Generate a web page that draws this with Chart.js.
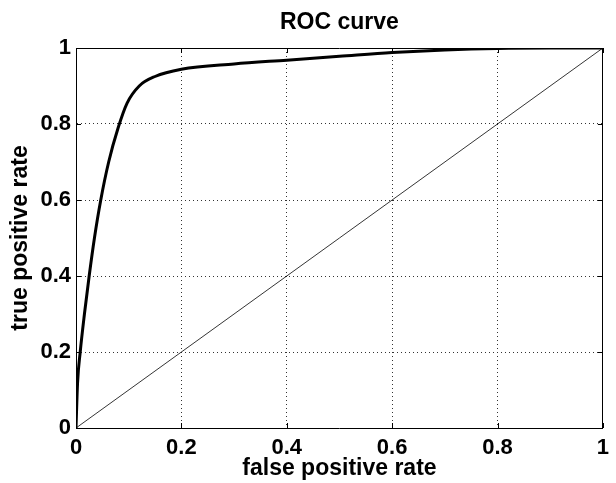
<!DOCTYPE html>
<html>
<head>
<meta charset="utf-8">
<title>ROC curve</title>
<script src="https://cdn.jsdelivr.net/npm/chart.js@4.4.1/dist/chart.umd.min.js"></script>
<style>
    html, body { margin: 0; padding: 0; background: #fff; }
    canvas { display: block; }
</style>
</head>
<body>
<canvas id="rocChart" width="616" height="483"></canvas>
<script>
// values
const fprValues = [0, 0.003, 0.008, 0.016, 0.025, 0.035, 0.047, 0.062, 0.08, 0.097, 0.12, 0.15, 0.2, 0.3, 0.4, 0.5, 0.6, 0.7, 0.8, 0.9, 1]
const tprValues = [0, 0.12, 0.2, 0.3, 0.4, 0.5, 0.6, 0.7, 0.79, 0.855, 0.9, 0.925, 0.944, 0.958, 0.968, 0.978, 0.988, 0.995, 0.999, 1, 1]
const chanceX = [0, 1]
const chanceY = [0, 1]
const tickLabels = ['0', '0.2', '0.4', '0.6', '0.8', '1']

const chartTitle = 'ROC curve'
const xTitle = 'false positive rate'
const yTitle = 'true positive rate'

const fontFamily = "'Liberation Sans', Arial, Helvetica, sans-serif"

const toPoints = (xs, ys) => xs.map((x, i) => ({x: x, y: ys[i]}))
const tickLabel = (value) => {
    const idx = Math.round(value / 0.2)
    return tickLabels[idx] !== undefined ? tickLabels[idx] : ''
}

// short inward tick marks like matlab
const innerTicks = {
    id: 'innerTicks',
    afterDatasetsDraw(chart) {
        const {ctx, chartArea, scales} = chart
        const len = 5
        ctx.save()
        ctx.strokeStyle = '#000'
        ctx.lineWidth = 1
        ctx.beginPath()
        scales.x.ticks.forEach(t => {
            const px = Math.round(scales.x.getPixelForValue(t.value)) + 0.5
            ctx.moveTo(px, chartArea.bottom)
            ctx.lineTo(px, chartArea.bottom - len)
            ctx.moveTo(px, chartArea.top)
            ctx.lineTo(px, chartArea.top + len)
        })
        scales.y.ticks.forEach(t => {
            const py = Math.round(scales.y.getPixelForValue(t.value)) + 0.5
            ctx.moveTo(chartArea.left, py)
            ctx.lineTo(chartArea.left + len, py)
            ctx.moveTo(chartArea.right, py)
            ctx.lineTo(chartArea.right - len, py)
        })
        ctx.stroke()
        ctx.restore()
    }
}

const hiddenAxis = (position, size, title) => {
    const horizontal = position === 'top'
    return {
        type: 'linear',
        position: position,
        min: 0,
        max: 1,
        grid: {display: false, drawTicks: false},
        ticks: {display: false},
        border: {display: true, color: '#000', width: 1},
        title: title,
        afterFit: (scale) => {
            if (horizontal) {
                scale.height = size
            } else {
                scale.width = size
            }
        }
    }
}

new Chart(document.getElementById('rocChart'), {
    type: 'scatter',
    data: {
        datasets: [
            {
                data: toPoints(fprValues, tprValues),
                showLine: true,
                borderColor: '#000',
                borderWidth: 3,
                pointRadius: 0,
                cubicInterpolationMode: 'monotone',
                fill: false,
            },
            {
                data: toPoints(chanceX, chanceY),
                showLine: true,
                borderColor: '#000',
                borderWidth: 0.8,
                pointRadius: 0,
                fill: false,
            }
        ]
    },
    options: {
        responsive: false,
        animation: false,
        layout: {padding: 0},
        plugins: {
            legend: {display: false},
            tooltip: {enabled: false},
            title: {display: false},
        },
        scales: {
            x: {
                type: 'linear',
                position: 'bottom',
                min: 0,
                max: 1,
                ticks: {
                    stepSize: 0.2,
                    color: '#000',
                    padding: 7,
                    maxRotation: 0,
                    font: {family: fontFamily, size: 22, weight: 'bold'},
                    callback: tickLabel,
                },
                grid: {color: '#333', lineWidth: 1, drawTicks: false},
                border: {display: true, color: '#000', width: 1, dash: [1, 3]},
                title: {
                    display: true,
                    text: xTitle,
                    color: '#000',
                    font: {family: fontFamily, size: 23, weight: 'bold'},
                    padding: {top: 0, bottom: 1},
                },
                afterFit: (scale) => { scale.height = 55 }
            },
            y: {
                type: 'linear',
                position: 'left',
                min: 0,
                max: 1,
                ticks: {
                    stepSize: 0.2,
                    color: '#000',
                    padding: 5,
                    font: {family: fontFamily, size: 22, weight: 'bold'},
                    callback: tickLabel,
                },
                grid: {color: '#333', lineWidth: 1, drawTicks: false},
                border: {display: true, color: '#000', width: 1, dash: [1, 3]},
                title: {
                    display: true,
                    text: yTitle,
                    color: '#000',
                    font: {family: fontFamily, size: 23, weight: 'bold'},
                    padding: {top: 7, bottom: 0},
                },
                afterFit: (scale) => { scale.width = 76 }
            },
            x2: hiddenAxis('top', 48, {
                display: true,
                text: chartTitle,
                color: '#000',
                font: {family: fontFamily, size: 23, weight: 'bold'},
                padding: {top: 9, bottom: 0},
            }),
            y2: hiddenAxis('right', 7, {display: false}),
        }
    },
    plugins: [innerTicks]
});
</script>
</body>
</html>
